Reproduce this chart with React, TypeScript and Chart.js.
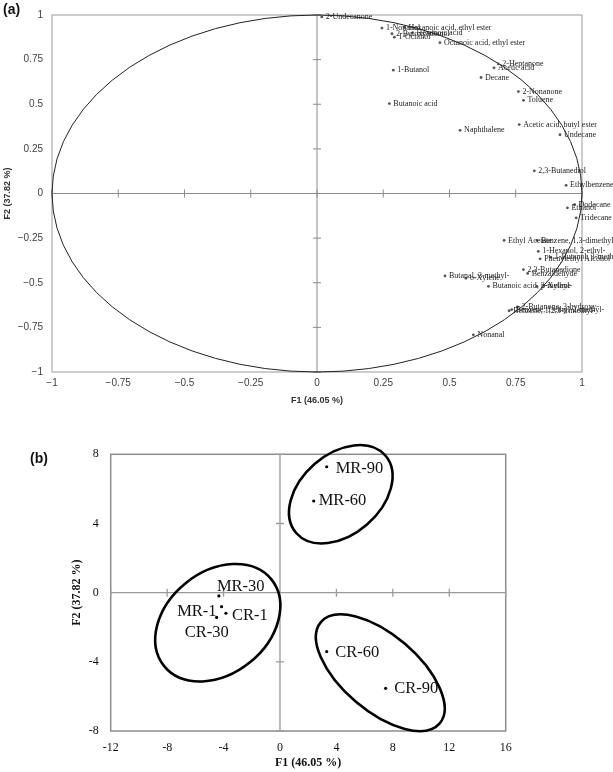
import React, { useEffect, useRef } from "react";
import { Chart, registerables } from "chart.js";

Chart.register(...registerables);

// ---------- (a) correlation circle: variables ----------
const variableNames = [
  "2-Undecanone",
  "1-Nonanol",
  "Hexanoic acid, ethyl ester",
  "2-Butoxyethanol",
  "Hexanoic acid",
  "1-Octanol",
  "Octanoic acid, ethyl ester",
  "1-Butanol",
  "Butanoic acid",
  "2-Heptanone",
  "Acetic acid",
  "Decane",
  "2-Nonanone",
  "Toluene",
  "Acetic acid, butyl ester",
  "Undecane",
  "Naphthalene",
  "2,3-Butanediol",
  "Ethylbenzene",
  "Dodecane",
  "Ethanol",
  "Tridecane",
  "Ethyl Acetate",
  "Benzene, 1,3-dimethyl-",
  "1-Hexanol, 2-ethyl-",
  "Phenylethyl Alcohol",
  "1-Butanol, 3-methyl-",
  "2,3-Butanedione",
  "Benzaldehyde",
  "Butanal, 3-methyl-",
  "o-Xylene",
  "Butanoic acid, 3-methyl-",
  "p-Xylene",
  "2-Butanone, 3-hydroxy-",
  "Benzene, 1,2,3-trimethyl-",
  "Benzene, 1-ethyl-2-methyl-",
  "Nonanal",
];
const variableF1 = [
  0.018, 0.245, 0.33, 0.283, 0.36, 0.292, 0.464, 0.288, 0.273, 0.684, 0.668,
  0.619, 0.76, 0.779, 0.763, 0.917, 0.54, 0.82, 0.94, 0.972, 0.945, 0.978,
  0.706, 0.83, 0.835, 0.842, 0.882, 0.779, 0.795, 0.483, 0.562, 0.647, 0.83,
  0.757, 0.725, 0.735, 0.59,
];
const variableF2 = [
  0.989, 0.927, 0.93, 0.895, 0.9, 0.876, 0.845, 0.691, 0.504, 0.726, 0.704,
  0.65, 0.571, 0.522, 0.386, 0.329, 0.354, 0.127, 0.046, -0.063, -0.08,
  -0.136, -0.263, -0.263, -0.324, -0.366, -0.357, -0.426, -0.448, -0.462,
  -0.475, -0.52, -0.52, -0.635, -0.657, -0.65, -0.792,
];
const loadingTicks = [-1, -0.75, -0.5, -0.25, 0, 0.25, 0.5, 0.75, 1];

// ---------- (b) score plot: samples ----------
const sampleNames = ["MR-90", "MR-60", "MR-30", "MR-1", "CR-1", "CR-30", "CR-60", "CR-90"];
const sampleF1 = [3.31, 2.39, -4.33, -4.14, -3.83, -4.49, 3.31, 7.49];
const sampleF2 = [7.28, 5.3, -0.19, -0.81, -1.19, -1.43, -3.41, -5.53];
const scoreTicksF1 = [-12, -8, -4, 0, 4, 8, 12, 16];
const scoreTicksF2 = [-8, -4, 0, 4, 8];

// group ellipses: centre and two conjugate semi-axis vectors (data units)
const ellipseCenterF1 = [4.31, -4.41, 7.11];
const ellipseCenterF2 = [5.69, -1.74, -4.63];
const ellipseAxisU = [
  [3.16, 2.24],
  [3.8, 2.51],
  [4.21, -2.93],
];
const ellipseAxisV = [
  [1.86, -1.75],
  [2.28, -2.29],
  [-1.75, -1.67],
];

// label placement for (b): [dx, dy, align]
const sampleLabelPlacement: [number, number, CanvasTextAlign][] = [
  [9, 1.5, "left"],
  [5, 0, "left"],
  [-2, -9, "left"],
  [-5, 5, "right"],
  [6, 2.5, "left"],
  [-10, 15, "center"],
  [8.5, 1, "left"],
  [8.5, 0, "left"],
];

const crossAxesPlugin = {
  id: "crossAxes",
  beforeDatasetsDraw(chart: any, _args: any, opts: any) {
    const { ctx, chartArea } = chart;
    const { left, right, top, bottom } = chartArea;
    const x = chart.scales.x;
    const y = chart.scales.y;
    ctx.save();
    ctx.strokeStyle = opts.frameColor;
    ctx.lineWidth = opts.frameWidth;
    ctx.strokeRect(left, top, right - left, bottom - top);
    const x0 = x.getPixelForValue(0);
    const y0 = y.getPixelForValue(0);
    ctx.strokeStyle = opts.axisColor;
    ctx.lineWidth = opts.axisWidth;
    ctx.beginPath();
    ctx.moveTo(left, y0);
    ctx.lineTo(right, y0);
    ctx.moveTo(x0, top);
    ctx.lineTo(x0, bottom);
    const tl = opts.tickLen;
    x.ticks.forEach((t: any) => {
      const px = x.getPixelForValue(t.value);
      ctx.moveTo(px, y0 - tl);
      ctx.lineTo(px, y0 + tl);
    });
    y.ticks.forEach((t: any) => {
      const py = y.getPixelForValue(t.value);
      ctx.moveTo(x0 - tl, py);
      ctx.lineTo(x0 + tl, py);
    });
    ctx.stroke();
    ctx.restore();
  },
};

const circlePlugin = {
  id: "unitCircle",
  beforeDatasetsDraw(chart: any) {
    const { ctx } = chart;
    const x = chart.scales.x;
    const y = chart.scales.y;
    const cx = x.getPixelForValue(0);
    const cy = y.getPixelForValue(0);
    const rx = x.getPixelForValue(1) - cx;
    const ry = cy - y.getPixelForValue(1);
    ctx.save();
    ctx.strokeStyle = "#222";
    ctx.lineWidth = 1;
    ctx.beginPath();
    ctx.ellipse(cx, cy, rx, ry, 0, 0, Math.PI * 2);
    ctx.stroke();
    ctx.restore();
  },
};

const ellipsePlugin = {
  id: "groupEllipses",
  beforeDatasetsDraw(chart: any) {
    const { ctx } = chart;
    const x = chart.scales.x;
    const y = chart.scales.y;
    const sx = x.getPixelForValue(1) - x.getPixelForValue(0);
    const sy = y.getPixelForValue(1) - y.getPixelForValue(0);
    ellipseCenterF1.forEach((c1, i) => {
      const px = x.getPixelForValue(c1);
      const py = y.getPixelForValue(ellipseCenterF2[i]);
      const [ux, uy] = ellipseAxisU[i];
      const [vx, vy] = ellipseAxisV[i];
      ctx.save();
      ctx.beginPath();
      ctx.transform(ux * sx, uy * sy, vx * sx, vy * sy, px, py);
      ctx.arc(0, 0, 1, 0, Math.PI * 2);
      ctx.restore();
      ctx.save();
      ctx.strokeStyle = "#000";
      ctx.lineWidth = 2.6;
      ctx.stroke();
      ctx.restore();
    });
  },
};

const pointLabelsPlugin = {
  id: "pointLabels",
  afterDatasetsDraw(chart: any, _args: any, opts: any) {
    const { ctx } = chart;
    const meta = chart.getDatasetMeta(0);
    ctx.save();
    ctx.font = opts.font;
    ctx.fillStyle = opts.color;
    ctx.textBaseline = "middle";
    meta.data.forEach((el: any, i: number) => {
      const [dx, dy, align] = opts.placement(i);
      ctx.textAlign = align;
      ctx.fillText(opts.names[i], el.x + dx, el.y + dy);
    });
    ctx.restore();
  },
};

const fmtMinus = (v: any) => {
  const n = Number(v);
  return n < 0 ? "\u2212" + String(Math.abs(n)) : String(n);
};

export default function App() {
  const refA = useRef<HTMLCanvasElement>(null);
  const refB = useRef<HTMLCanvasElement>(null);

  useEffect(() => {
    document.body.style.margin = "0";
    const sansA = "'Liberation Sans', Arial, sans-serif";
    const serif = "'Liberation Serif', 'Times New Roman', serif";

    const chartA = new Chart(refA.current as HTMLCanvasElement, {
      type: "scatter",
      data: {
        datasets: [
          {
            data: variableF1.map((v, i) => ({ x: v, y: variableF2[i] })),
            pointRadius: 1.4,
            pointBackgroundColor: "#555",
            pointBorderWidth: 0,
            pointHoverRadius: 1.4,
          },
        ],
      },
      options: {
        responsive: false,
        animation: false,
        devicePixelRatio: 1,
        events: [],
        layout: { padding: { left: 0, top: 4, right: 31, bottom: 0 }, autoPadding: false },
        plugins: {
          legend: { display: false },
          tooltip: { enabled: false },
          crossAxes: {
            frameColor: "#9a9a9a",
            frameWidth: 1,
            axisColor: "#8a8a8a",
            axisWidth: 1,
            tickLen: 4,
          },
          pointLabels: {
            names: variableNames,
            font: "8px " + serif,
            color: "#222",
            placement: () => [4, 0, "left"],
          },
        } as any,
        scales: {
          x: {
            type: "linear",
            min: -1,
            max: 1,
            afterBuildTicks: (s: any) => {
              s.ticks = loadingTicks.map((v) => ({ value: v }));
            },
            afterFit: (s: any) => {
              s.height = 43;
            },
            grid: { display: false, drawTicks: false },
            border: { display: false },
            ticks: {
              padding: 5,
              autoSkip: false,
              maxRotation: 0,
              color: "#404040",
              font: { family: sansA, size: 10 },
              callback: fmtMinus,
            },
            title: {
              display: true,
              text: "F1 (46.05 %)",
              color: "#333",
              font: { family: sansA, size: 9, weight: "bold" },
              padding: { top: 0, bottom: 8.6 },
            },
          },
          y: {
            type: "linear",
            min: -1,
            max: 1,
            afterBuildTicks: (s: any) => {
              s.ticks = loadingTicks.map((v) => ({ value: v }));
            },
            afterFit: (s: any) => {
              s.width = 52;
            },
            grid: { display: false, drawTicks: false },
            border: { display: false },
            ticks: {
              padding: 9,
              autoSkip: false,
              color: "#404040",
              font: { family: sansA, size: 10 },
              callback: fmtMinus,
            },
            title: {
              display: true,
              text: "F2 (37.82 %)",
              color: "#333",
              font: { family: sansA, size: 9, weight: "bold" },
              padding: { top: 2.6, bottom: 0 },
            },
          },
        },
      } as any,
      plugins: [crossAxesPlugin, circlePlugin, pointLabelsPlugin],
    });

    const chartB = new Chart(refB.current as HTMLCanvasElement, {
      type: "scatter",
      data: {
        datasets: [
          {
            data: sampleF1.map((v, i) => ({ x: v, y: sampleF2[i] })),
            pointRadius: 1.6,
            pointBackgroundColor: "#000",
            pointBorderWidth: 0,
            pointHoverRadius: 1.6,
          },
        ],
      },
      options: {
        responsive: false,
        animation: false,
        devicePixelRatio: 1,
        events: [],
        layout: { padding: { left: 0, top: 39.3, right: 107.3, bottom: 0 }, autoPadding: false },
        plugins: {
          legend: { display: false },
          tooltip: { enabled: false },
          crossAxes: {
            frameColor: "#8c8c8c",
            frameWidth: 1.5,
            axisColor: "#9a9a9a",
            axisWidth: 1.3,
            tickLen: 4,
          },
          pointLabels: {
            names: sampleNames,
            font: "16.5px " + serif,
            color: "#111",
            placement: (i: number) => sampleLabelPlacement[i],
          },
        } as any,
        scales: {
          x: {
            type: "linear",
            min: -12,
            max: 16,
            afterBuildTicks: (s: any) => {
              s.ticks = scoreTicksF1.map((v) => ({ value: v }));
            },
            afterFit: (s: any) => {
              s.height = 41;
            },
            grid: { display: false, drawTicks: false },
            border: { display: false },
            ticks: {
              padding: 10,
              autoSkip: false,
              maxRotation: 0,
              color: "#111",
              font: { family: serif, size: 12 },
            },
            title: {
              display: true,
              text: "F1 (46.05 %)",
              color: "#111",
              font: { family: serif, size: 12, weight: "bold" },
              padding: { top: 0, bottom: 1.8 },
            },
          },
          y: {
            type: "linear",
            min: -8,
            max: 8,
            afterBuildTicks: (s: any) => {
              s.ticks = scoreTicksF2.map((v) => ({ value: v }));
            },
            afterFit: (s: any) => {
              s.width = 110.7;
            },
            grid: { display: false, drawTicks: false },
            border: { display: false },
            ticks: {
              padding: 12,
              autoSkip: false,
              color: "#111",
              font: { family: serif, size: 12 },
            },
            title: {
              display: true,
              text: "F2 (37.82 %)",
              color: "#111",
              font: { family: serif, size: 12, weight: "bold" },
              padding: { top: 69.4, bottom: 0 },
            },
          },
        },
      } as any,
      plugins: [crossAxesPlugin, ellipsePlugin, pointLabelsPlugin],
    });

    return () => {
      chartA.destroy();
      chartB.destroy();
    };
  }, []);

  return (
    <div style={{ position: "relative", width: 613, height: 772, background: "#fff", overflow: "hidden" }}>
      <canvas
        ref={refA}
        width={613}
        height={415}
        style={{ position: "absolute", left: 0, top: 0, width: 613, height: 415 }}
      />
      <canvas
        ref={refB}
        width={613}
        height={357}
        style={{ position: "absolute", left: 0, top: 415, width: 613, height: 357 }}
      />
      <div
        style={{
          position: "absolute",
          left: 3,
          top: 1,
          font: "bold 14px 'Liberation Sans', Arial, sans-serif",
          lineHeight: "16px",
          color: "#111",
        }}
      >
        (a)
      </div>
      <div
        style={{
          position: "absolute",
          left: 30,
          top: 450,
          font: "bold 14px 'Liberation Sans', Arial, sans-serif",
          lineHeight: "16px",
          color: "#111",
        }}
      >
        (b)
      </div>
    </div>
  );
}
